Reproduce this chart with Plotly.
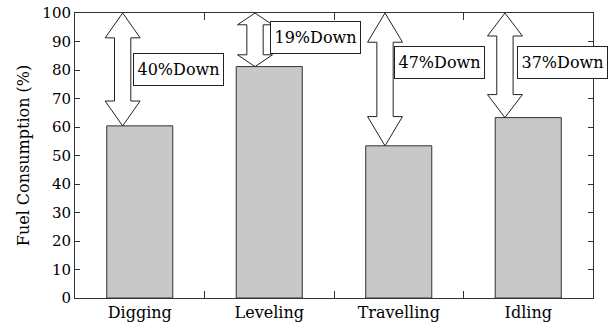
import plotly.graph_objects as go

# ---- data ----
categories = ["Digging", "Leveling", "Travelling", "Idling"]
fuel_consumption = [60.4, 81.2, 53.4, 63.3]
reduction_labels = ["40%Down", "19%Down", "47%Down", "37%Down"]
y_ticks = [0, 10, 20, 30, 40, 50, 60, 70, 80, 90, 100]

# ---- layout constants (positions / styles) ----
arrow_x_offset = [-0.132, -0.110, -0.106, -0.180]
label_pos = [(0.301, 80.3), (1.360, 91.3), (2.316, 82.6), (3.267, 82.6)]
HEAD_HALF = 0.135
SHAFT_HALF = 0.063
HEAD_FRAC = 0.22
FONT = "DejaVu Serif"
LINE = "#333333"

fig = go.Figure()
fig.add_trace(go.Bar(
    x=categories, y=fuel_consumption, width=0.51,
    marker=dict(color="#c8c8c8", line=dict(color=LINE, width=1)),
    showlegend=False, hoverinfo="skip",
))

shapes = []
annotations = []
for i, v in enumerate(fuel_consumption):
    xc = i + arrow_x_offset[i]
    top, bot = 100.0, v
    hl = HEAD_FRAC * (top - bot)
    pts = [
        (xc, top),
        (xc + HEAD_HALF, top - hl),
        (xc + SHAFT_HALF, top - hl),
        (xc + SHAFT_HALF, bot + hl),
        (xc + HEAD_HALF, bot + hl),
        (xc, bot),
        (xc - HEAD_HALF, bot + hl),
        (xc - SHAFT_HALF, bot + hl),
        (xc - SHAFT_HALF, top - hl),
        (xc - HEAD_HALF, top - hl),
    ]
    path = "M " + " L ".join(f"{px},{py}" for px, py in pts) + " Z"
    shapes.append(dict(type="path", path=path, xref="x", yref="y",
                       fillcolor="white", line=dict(color="#222222", width=1),
                       layer="above"))
    lx, ly = label_pos[i]
    annotations.append(dict(
        x=lx, y=ly, xref="x", yref="y", text=reduction_labels[i],
        showarrow=False, font=dict(family=FONT, size=16, color="black"),
        bgcolor="white", bordercolor="#222222", borderwidth=1,
        width=89, height=31, borderpad=0,
    ))

fig.update_layout(
    width=615, height=331,
    margin=dict(l=75, r=22, t=13, b=33, autoexpand=False),
    paper_bgcolor="white", plot_bgcolor="white",
    font=dict(family=FONT, size=15, color="black"),
    shapes=shapes, annotations=annotations,
    xaxis=dict(
        type="category", range=[-0.5, 3.5], automargin=False,
        showline=True, linecolor=LINE, linewidth=1, mirror="ticks",
        ticks="inside", ticklen=7, tickcolor=LINE, tickson="boundaries",
        showgrid=False, zeroline=False, ticklabeloverflow="allow",
        tickfont=dict(family=FONT, size=16, color="black"),
    ),
    yaxis=dict(
        range=[0, 100], tickvals=y_ticks, automargin=False,
        showline=True, linecolor=LINE, linewidth=1, mirror="ticks",
        ticks="inside", ticklen=5, tickcolor=LINE,
        showgrid=False, zeroline=False, ticklabeloverflow="allow",
        tickfont=dict(family=FONT, size=15, color="black"),
        title=dict(text="Fuel Consumption (%)", standoff=8,
                   font=dict(family=FONT, size=16, color="black")),
    ),
)

# remove the page's default 8px body margin so the figure sits at the top-left
fig.write_html("out.html", config={"displayModeBar": False},
               post_script="document.body.style.margin='0';")
